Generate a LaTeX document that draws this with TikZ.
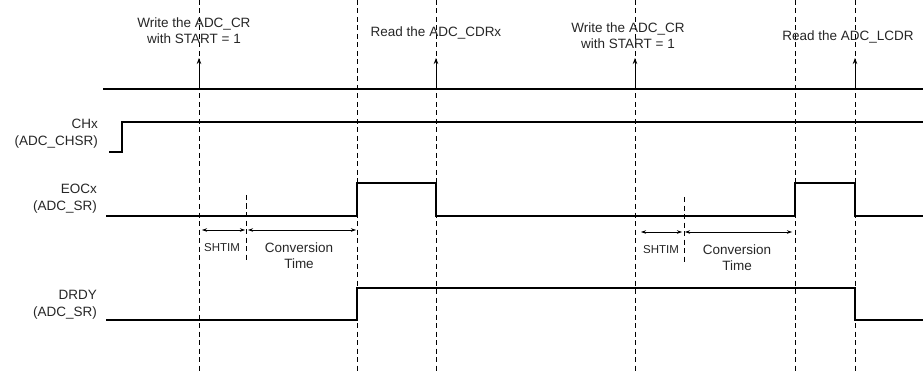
\documentclass[tikz,border=0pt]{standalone}
\usepackage{fontspec}
\setmainfont{Liberation Sans}
\usetikzlibrary{arrows.meta}
\begin{document}
\begin{tikzpicture}[x=1pt,y=-1pt,
  sig/.style={line width=1.3pt, line join=miter},
  guide/.style={line width=0.6pt, dash pattern=on 5pt off 3.5pt},
  lbl/.style={font=\fontsize{13.5}{16}\selectfont, text=black!85, inner sep=0pt, align=center},
  side/.style={font=\fontsize{13.5}{17}\selectfont, text=black!85, inner sep=0pt, align=right, anchor=east},
  sm/.style={font=\fontsize{11.5}{13}\selectfont, text=black!85, inner sep=0pt},
  up/.style={line width=0.8pt, -{Stealth[length=6pt,width=4.5pt]}},
  dim/.style={line width=0.6pt, {Stealth[length=5pt,width=3.5pt]}-{Stealth[length=5pt,width=3.5pt]}}]
\useasboundingbox (0,0) rectangle (923,374);

% vertical guides
\foreach \n/\x in {1/199,2/357,3/436,4/635,5/795,6/855}{
  \coordinate (gt\n) at (\x,0);
  \coordinate (gb\n) at (\x,372);
  \draw[guide] (gt\n) -- (gb\n);
}
% short guides
\coordinate (st1) at (246,195); \coordinate (sb1) at (246,262);
\coordinate (st2) at (684,197); \coordinate (sb2) at (684,263);
\draw[guide] (st1) -- (sb1);
\draw[guide] (st2) -- (sb2);

% top bus line
\coordinate (busL) at (103,89); \coordinate (busR) at (923,89);
\draw[sig] (busL) -- (busR);

% top labels
\node[lbl] (w1) at (194,31) {Write the ADC\_CR\\with START = 1};
\node[lbl] (r1) at (436,33) {Read the ADC\_CDRx};
\node[lbl] (w2) at (628,36) {Write the ADC\_CR\\with START = 1};
\node[lbl] (r2) at (848,37) {Read the ADC\_LCDR};

% event arrows
\foreach \n/\x in {1/199,2/436,3/635,4/855}{
  \coordinate (as\n) at (\x,89);
  \coordinate (ae\n) at (\x,58);
  \draw[up] (as\n) -- (ae\n);
}

% signal labels
\node[side] (chx) at (98,134) {CHx\\(ADC\_CHSR)};
\node[side] (eoc) at (97,199) {EOCx\\(ADC\_SR)};
\node[side] (drdy) at (97,305) {DRDY\\(ADC\_SR)};

% CHx
\draw[sig] (109,152) -- (122,152) -- (122,122) -- (923,122);
% EOCx
\draw[sig] (106,216) -- (357,216) -- (357,183) -- (436,183) -- (436,216)
  -- (795,216) -- (795,183) -- (855,183) -- (855,216) -- (923,216);
% DRDY
\draw[sig] (106,320) -- (357,320) -- (357,288) -- (855,288) -- (855,320) -- (923,320);

% dimension arrows
\coordinate (d1a) at (202,230); \coordinate (d1b) at (245,230);
\coordinate (d2a) at (248,230); \coordinate (d2b) at (356,230);
\coordinate (d3a) at (641,232); \coordinate (d3b) at (682,232);
\coordinate (d4a) at (685,232); \coordinate (d4b) at (792,232);
\draw[dim] (d1a) -- (d1b);
\draw[dim] (d2a) -- (d2b);
\draw[dim] (d3a) -- (d3b);
\draw[dim] (d4a) -- (d4b);

\node[sm] (sh1) at (222,248) {SHTIM};
\node[sm] (sh2) at (661,250) {SHTIM};
\node[lbl] (ct1) at (299,256) {Conversion\\Time};
\node[lbl] (ct2) at (737,258) {Conversion\\Time};
\end{tikzpicture}
\end{document}
